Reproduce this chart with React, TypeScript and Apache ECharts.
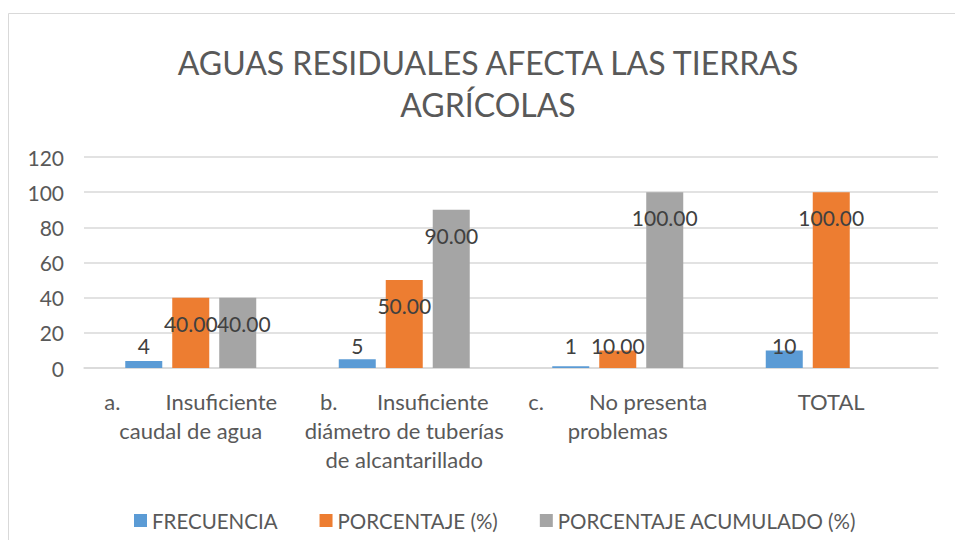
import React, { useEffect, useRef } from "react";
import * as echarts from "echarts";

const titleLines = ["AGUAS RESIDUALES AFECTA LAS TIERRAS", "AGRÍCOLAS"];
const categories = [
  "a.        Insuficiente\ncaudal de agua",
  "b.       Insuficiente\ndiámetro de tuberías\nde alcantarillado",
  "c.        No presenta\nproblemas",
  "TOTAL",
];
const seriesNames = ["FRECUENCIA", "PORCENTAJE (%)", "PORCENTAJE ACUMULADO (%)"];
const frecuencia = [4, 5, 1, 10];
const porcentaje = [40, 50, 10, 100];
const acumulado: (number | null)[] = [40, 90, 100, null];
const decimals = [0, 2, 2];
const colors = ["#5B9BD5", "#ED7D31", "#A5A5A5"];
const yTicks = { min: 0, max: 120, interval: 20 };

const FONT = "Lato, 'Open Sans', sans-serif";

export default function App() {
  const ref = useRef<HTMLDivElement>(null);
  useEffect(() => {
    if (!ref.current) return;
    const chart = echarts.init(ref.current, null, { renderer: "svg" });
    const allData = [frecuencia, porcentaje, acumulado];
    const series = allData.map((arr, si) => ({
      name: seriesNames[si],
      type: "bar",
      barWidth: 37,
      barGap: "27%",
      itemStyle: { color: colors[si] },
      data: arr.map((v, ci) => {
        if (v === null) return null;
        // Excel nudges a label sideways when it would collide with its neighbour's
        const prev = si > 0 ? allData[si - 1][ci] : null;
        const nudge = prev !== null && prev === v && v >= 30 ? 6 : 0;
        return {
          value: v,
          label:
            v >= 30
              ? { position: "insideTop", distance: 15, offset: [nudge, 0] }
              : { position: "insideBottom", distance: 12 },
        };
      }),
      label: {
        show: true,
        fontFamily: FONT,
        fontSize: 21,
        color: "#404040",
        formatter: (p: any) => Number(p.value).toFixed(decimals[si]),
      },
    }));
    chart.setOption({
      animation: false,
      backgroundColor: "#ffffff",
      textStyle: { fontFamily: FONT },
      graphic: [
        {
          type: "rect",
          shape: { x: 8.5, y: 13.5, width: 1200, height: 1200 },
          style: { fill: "none", stroke: "#d9d9d9", lineWidth: 1 },
          silent: true,
        },
        ...titleLines.map((t, i) => ({
          type: "text",
          x: 488,
          y: 62 + i * 42,
          style: {
            text: t,
            fontFamily: FONT,
            fontWeight: 400,
            fontSize: 32,
            fill: "#595959",
            textAlign: "center",
            textVerticalAlign: "middle",
          },
        })),
      ],
      grid: { left: 84, right: 17, top: 157, bottom: 172 },
      legend: {
        left: 129,
        top: 505,
        itemWidth: 13,
        itemHeight: 13,
        itemGap: 42,
        icon: "rect",
        textStyle: { fontFamily: FONT, fontSize: 20.5, color: "#595959" },
        data: seriesNames,
      },
      xAxis: {
        type: "category",
        data: categories,
        axisTick: { show: false },
        axisLine: { lineStyle: { color: "#d9d9d9", width: 1.5 } },
        axisLabel: {
          interval: 0,
          margin: 19,
          fontFamily: FONT,
          fontSize: 22,
          lineHeight: 29,
          color: "#595959",
        },
      },
      yAxis: {
        type: "value",
        min: yTicks.min,
        max: yTicks.max,
        interval: yTicks.interval,
        axisLine: { show: false },
        axisTick: { show: false },
        splitLine: { lineStyle: { color: "#d9d9d9", width: 1.5 } },
        axisLabel: {
          margin: 20,
          fontFamily: FONT,
          fontSize: 21,
          color: "#595959",
        },
      },
      series,
    });
    return () => chart.dispose();
  }, []);
  return (
    <div
      ref={ref}
      style={{ position: "fixed", left: 0, top: 0, width: 955, height: 540 }}
    />
  );
}
